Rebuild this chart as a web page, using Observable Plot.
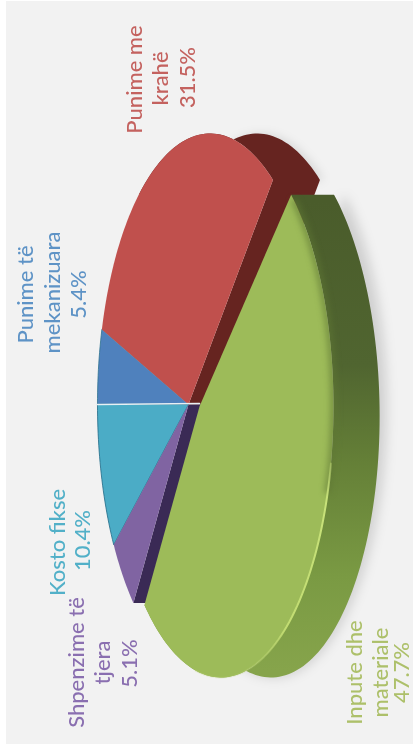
<!DOCTYPE html>
<html><head><meta charset="utf-8">
<script src="https://cdn.jsdelivr.net/npm/d3@7"></script>
<script src="https://cdn.jsdelivr.net/npm/@observablehq/plot@0.6"></script>
<style>html,body{margin:0;padding:0;background:#fff}svg{display:block}</style>
</head><body>
<script>
// data (clockwise from the white divider)
const categories = ["Punime të mekanizuara", "Punime me krahë", "Inpute dhe materiale", "Shpenzime të tjera", "Kosto fikse"];
const shares = [5.4, 31.5, 47.7, 5.1, 10.4];
const faceColors = ["#4f81bd", "#c0504d", "#9dbb59", "#8064a2", "#4bacc6"];
const wallColors = ["#2f4f78", "#662420", "#4d602c", "#3a2a55", "#2a6d80"];

const labelLines = [
  ["Punime me", "krahë", "31.5%"],
  ["Punime të", "mekanizuara", "5.4%"],
  ["Kosto fikse", "10.4%"],
  ["Shpenzime të", "tjera", "5.1%"],
  ["Inpute dhe", "materiale", "47.7%"]
];
const labelColors = ["#c4625f", "#5e93c6", "#52b0c8", "#8a6fb0", "#adc06a"];
const labelX = [[134, 160, 187], [25, 52, 78], [57, 82], [76, 102, 129], [354, 380, 401]];
const labelY = [[79, 78, 77], [294, 292, 294], [542, 540], [662, 662, 663], [672, 672, 672]];

// perspective of the tilted disc
const A = 108.4, K = -0.191, C = 266, DEPTH = 47;
const total = d3.sum(shares);
let acc = 0;
const bounds = shares.map(s => { const b = [acc, acc + s * 360 / total]; acc = b[1]; return b; });
const project = (u, v, o) => { const w = 1 + K * u; return {x: o[0] + A * u / w, y: o[1] + C * v / w}; };
const rimPt = (deg, o) => { const t = deg * Math.PI / 180; return project(-Math.cos(t), -Math.sin(t), o); };
const rim = (a, b, o) => { const n = Math.max(2, Math.ceil(Math.abs(b - a) / 1.5)); return d3.range(n + 1).map(i => rimPt(a + (b - a) * i / n, o)); };
const shift = (pts, dx) => pts.map(p => ({x: p.x + dx, y: p.y}));
const base = [188, 404], out = [199, 406];
const wedge = (a, b, o) => [{x: o[0], y: o[1]}, ...rim(a, b, o)];
const wall = (a, b, o) => { const r = rim(a, b, o); return [...r, ...shift(r, DEPTH).reverse()]; };
// the near side of the disc reads a little deeper than the far end
const greenWall = (a, b, o) => { const r = rim(a, b, o); return [...r, ...r.map(p => ({x: p.x + 43 + 7 * (p.y - 200) / 470, y: p.y})).reverse()]; };
const cut = (deg, o) => { const p = rimPt(deg, o), c = {x: o[0], y: o[1]}; return [c, p, {x: p.x + DEPTH, y: p.y}, {x: c.x + DEPTH, y: c.y}]; };

const [blue, red, green, purple, cyan] = bounds;
const gStart = green[0] + 4;
const poly = (pts, fill, extra = {}) => Plot.line(pts, {x: "x", y: "y", fill, stroke: "none", curve: "linear-closed", ...extra});
const strokeLine = (pts, stroke, strokeWidth, extra = {}) => Plot.line(pts, {x: "x", y: "y", stroke, strokeWidth, ...extra});

const defs = () => {
  const d = d3.create("svg:defs");
  const g = d.append("linearGradient").attr("id", "gw").attr("gradientUnits", "userSpaceOnUse")
    .attr("x1", 0).attr("x2", 0).attr("y1", 200).attr("y2", 670);
  [[0, "#4a5c2b"], [0.35, "#506530"], [0.55, "#647f37"], [0.8, "#7a9a43"], [1, "#86a44b"]]
    .forEach(([o, c]) => g.append("stop").attr("offset", o).attr("stop-color", c));
  const h = d.append("linearGradient").attr("id", "gh").attr("gradientUnits", "userSpaceOnUse")
    .attr("x1", 0).attr("x2", 0).attr("y1", 440).attr("y2", 675);
  [[0, "#c8e27a", 0], [0.25, "#c8e27a", 1], [0.8, "#c2dc72", 1], [1, "#b4cf68", 0.2]]
    .forEach(([o, c, a]) => h.append("stop").attr("offset", o).attr("stop-color", c).attr("stop-opacity", a));
  return d.node();
};

const labels = labelLines.flatMap((ls, i) => ls.map((t, j) => ({t, x: labelX[i][j], y: labelY[i][j], c: labelColors[i]})));

const chart = Plot.plot({
  width: 413, height: 744, margin: 0,
  x: {type: "linear", domain: [0, 413], range: [0, 413], axis: null},
  y: {type: "linear", domain: [0, 744], range: [0, 744], axis: null},
  marks: [
    defs,
    Plot.rect([{x1: 6, x2: 413, y1: 1, y2: 744}], {x1: "x1", x2: "x2", y1: "y1", y2: "y2", fill: "#f2f2f2"}),
    // soft shadow
    poly(shift(rim(gStart, green[1], out), DEPTH + 6), "#000", {fillOpacity: 0.14, imageFilter: "blur(6px)"}),
    poly(shift(rim(60, red[1], base), DEPTH + 4), "#000", {fillOpacity: 0.1, imageFilter: "blur(5px)"}),
    // red walls
    poly(wall(60, red[1], base), wallColors[1]),
    poly(cut(red[1], base), wallColors[1]),
    // flat faces of the small slices
    poly(wedge(blue[0], blue[1], base), faceColors[0], {stroke: "#2f7290", strokeWidth: 0.8}),
    poly(wedge(cyan[0], cyan[1], base), faceColors[4], {stroke: "#1f6a86", strokeWidth: 0.8}),
    poly(cut(purple[0], base), wallColors[3]),
    poly(wedge(purple[0], purple[1], base), faceColors[3]),
    poly(wedge(red[0], red[1], base), faceColors[1]),
    // green slice
    poly(greenWall(gStart, green[1], out), "url(#gw)"),
    poly(wedge(gStart, green[1], out), faceColors[2]),
    strokeLine(rim(gStart + 2, 195, out), "#5f7735", 5, {imageFilter: "blur(3px)", strokeOpacity: 0.8}),
    strokeLine(rim(190, 272, out), "url(#gh)", 2, {imageFilter: "blur(0.6px)"}),
    // divider between blue and cyan
    strokeLine([rimPt(blue[0], base), {x: base[0] + 11, y: base[1] - 1}], "#e8f0f5", 1.6),
    Plot.text(labels, {x: "x", y: "y", text: "t", fill: "c", rotate: -90, fontSize: 22, fontFamily: "Lato", textAnchor: "middle", lineAnchor: "middle", fontWeight: 500})
  ]
});
chart.style.background = "#fff";
chart.style.filter = "blur(0.6px)";
document.body.append(chart);
</script>
</body></html>
